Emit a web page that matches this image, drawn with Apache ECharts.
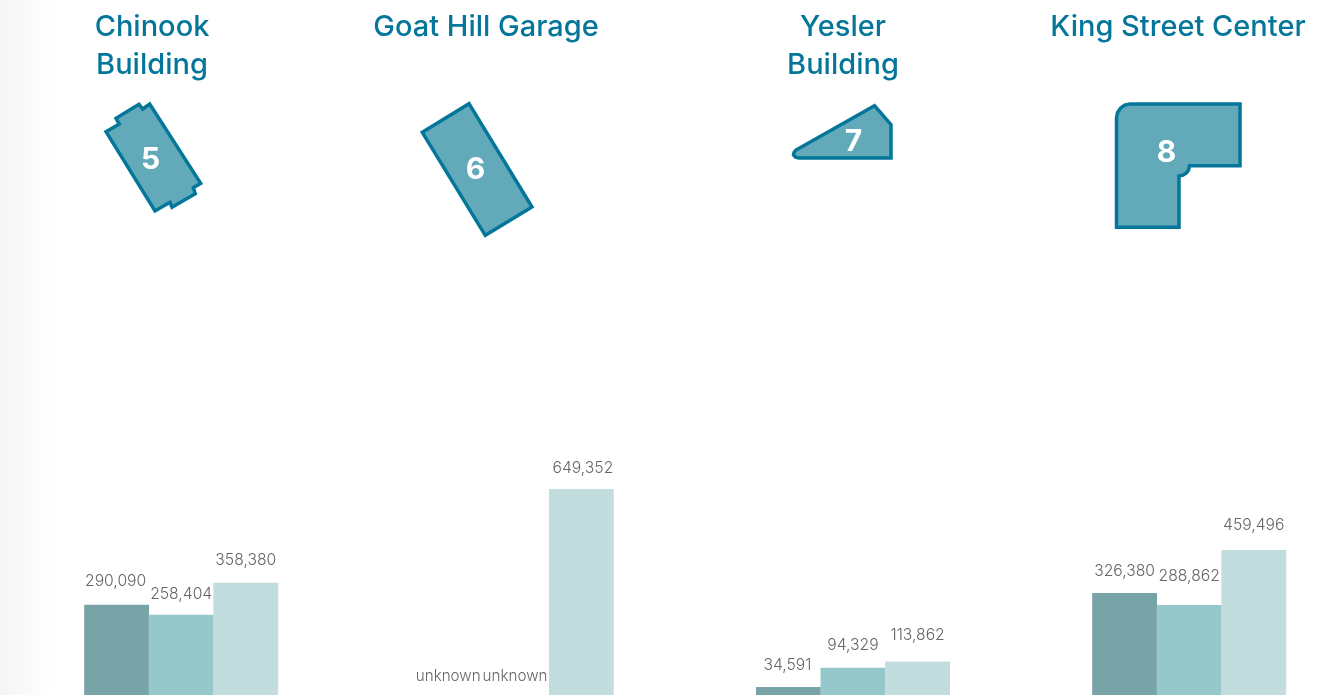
<!DOCTYPE html>
<html>
<head>
<meta charset="utf-8">
<style>
  html, body { margin: 0; padding: 0; width: 1336px; height: 695px; background: #fff; overflow: hidden; }
  #chart { width: 1336px; height: 720px; }
</style>
<script src="https://cdn.jsdelivr.net/npm/echarts@6/dist/echarts.min.js"></script>
</head>
<body>
<div id="chart"></div>
<script>
// Building names and the three measured values for each one (0 = not known)
const buildingNames = ['Chinook\nBuilding', 'Goat Hill Garage', 'Yesler\nBuilding', 'King Street Center'];
const buildingNumbers = ['5', '6', '7', '8'];
const chinookValues = [290090, 258404, 358380];
const goatHillValues = [0, 0, 649352];
const yeslerValues = [34591, 94329, 113862];
const kingStreetValues = [326380, 288862, 459496];
const unknownLabel = 'unknown';
const slots = ['first', 'second', 'third'];
const valueMax = 900000;

// Styling
const INK = '#04769a';
const FOOTPRINT_FILL = '#62aaba';
const BAR_COLORS = ['#78a3a7', '#96c7ca', '#c3dddf'];
const LABEL_COLOR = '#666666';

// Per-panel layout and label nudges that keep neighbouring labels apart
const panels = [
  { values: chinookValues, left: 84.2, titleX: 147, numX: 150.5, numY: 160, nudge: [-0.6, 2.7, 0.7], shift: [-1, 0, 0] },
  { values: goatHillValues, left: 419.8, titleX: 481, numX: 475.5, numY: 170, nudge: [0.6, 0.6, 2], shift: [-4, -1.8, 1.5] },
  { values: yeslerValues, left: 756, titleX: 838, numX: 853.5, numY: 142, nudge: [1, 0.7, -3.3], shift: [-1, 0, 0] },
  { values: kingStreetValues, left: 1092.2, titleX: 1173, numX: 1166.5, numY: 153, nudge: [1.4, -5.3, -2.3], shift: [0, 0, 0] }
];

// Building footprints, drawn as outlines above the bars
const footprints = [
  [[106, 131.7], [119.3, 124], [116, 118.3], [139, 104.3], [142.7, 109], [149.7, 104], [200.7, 183.3], [193.3, 187.7], [195.3, 193.7], [172, 207.3], [170, 202.3], [155, 211]],
  [[422.3, 132.3], [469, 103.7], [532, 207], [485.3, 235.3]],
  [[874.5, 105.7], [891, 124.7], [891, 158], [799, 158], [795.5, 157.2], [793.5, 155], [794, 152.5], [796, 150]],
  [[1130, 104], [1240, 104], [1240, 165.7], [1189.5, 165.7], [1188.7, 169.7], [1186.4, 172.9], [1183, 175.2], [1179, 176], [1179, 227.3], [1116.5, 227.3], [1116.5, 118], [1117.5, 112.7], [1120.5, 108.2], [1124.7, 105.1]]
];

const chart = echarts.init(document.getElementById('chart'), null, { renderer: 'canvas' });

const formatValue = v => (v === 0 ? unknownLabel : v.toLocaleString('en-US'));

chart.setOption({
  animation: false,
  backgroundColor: '#ffffff',
  title: panels.map((p, i) => ({
    text: buildingNames[i],
    left: p.titleX,
    top: 3,
    textAlign: 'center',
    textStyle: {
      fontFamily: 'Inter',
      fontWeight: 500,
      fontSize: 29,
      lineHeight: 38,
      color: INK
    }
  })),
  grid: panels.map(p => ({ left: p.left, width: 194, top: 408.2, height: 289.9 })),
  xAxis: panels.map((p, i) => ({
    type: 'category',
    gridIndex: i,
    data: slots,
    show: false
  })),
  yAxis: panels.map((p, i) => ({
    type: 'value',
    gridIndex: i,
    min: 0,
    max: valueMax,
    show: false
  })),
  series: panels.map((p, i) => ({
    type: 'bar',
    xAxisIndex: i,
    yAxisIndex: i,
    barWidth: 65,
    silent: true,
    data: p.values.map((v, j) => ({
      value: v,
      itemStyle: { color: BAR_COLORS[j] },
      label: {
        show: true,
        position: 'top',
        distance: 15,
        offset: [p.shift[j], p.nudge[j]],
        formatter: () => formatValue(v),
        fontFamily: 'Inter',
        fontWeight: 300,
        fontSize: v === 0 ? 15.2 : 15.7,
        color: LABEL_COLOR
      }
    }))
  })),
  graphic: [
    // Soft grey fade along the left page edge
    {
      type: 'rect',
      silent: true,
      z: -10,
      shape: { x: 0, y: 0, width: 54, height: 720 },
      style: {
        fill: new echarts.graphic.LinearGradient(0, 0, 1, 0, [
          { offset: 0, color: '#f5f5f5' },
          { offset: 1, color: '#ffffff' }
        ])
      }
    },
    ...footprints.map(points => ({
      type: 'polygon',
      silent: true,
      z: 5,
      shape: { points },
      style: { fill: FOOTPRINT_FILL, stroke: INK, lineWidth: 3.5, lineJoin: 'miter' }
    })),
    ...panels.map((p, i) => ({
      type: 'text',
      silent: true,
      z: 6,
      x: p.numX,
      y: p.numY,
      style: {
        text: buildingNumbers[i],
        fill: '#ffffff',
        font: '700 30px Inter',
        textAlign: 'center',
        textVerticalAlign: 'middle'
      }
    }))
  ]
});
</script>
</body>
</html>
